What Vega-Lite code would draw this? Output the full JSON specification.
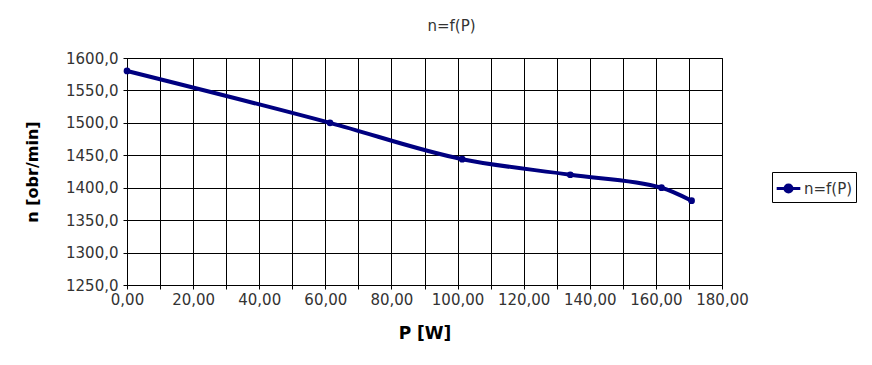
{
  "$schema": "https://vega.github.io/schema/vega-lite/v6.json",
  "autosize": "none",
  "width": 595,
  "height": 227,
  "padding": {"left": 127, "top": 58, "right": 150, "bottom": 80},
  "background": "white",
  "config": {
    "locale": {"number": {"decimal": ",", "thousands": "", "grouping": [3], "currency": ["", ""]}},
    "font": "DejaVu Sans",
    "view": {"stroke": "black", "strokeWidth": 1}
  },
  "title": {
    "text": "n=f(P)",
    "anchor": "middle",
    "frame": "bounds",
    "fontSize": 15,
    "fontWeight": "normal",
    "font": "DejaVu Sans",
    "color": "#333",
    "dx": 11,
    "offset": 17
  },
  "data": {
    "values": [
      {"P": 0, "n": 1580, "s": "n=f(P)"},
      {"P": 61.4, "n": 1500, "s": "n=f(P)"},
      {"P": 101.4, "n": 1444, "s": "n=f(P)"},
      {"P": 134.1, "n": 1420, "s": "n=f(P)"},
      {"P": 161.7, "n": 1400, "s": "n=f(P)"},
      {"P": 170.8, "n": 1380, "s": "n=f(P)"}
    ]
  },
  "mark": {"type": "line", "interpolate": "monotone", "strokeWidth": 4, "point": {"filled": true, "size": 45}},
  "encoding": {
    "x": {
      "field": "P", "type": "quantitative",
      "scale": {"domain": [0, 180], "nice": false, "zero": false},
      "axis": {
        "title": "P [W]",
        "values": [0,10,20,30,40,50,60,70,80,90,100,110,120,130,140,150,160,170,180],
        "format": ".2f",
        "labelExpr": "datum.value % 20 == 0 ? datum.label : ''",
        "grid": true, "gridColor": "black", "gridOpacity": 1, "gridWidth": 1,
        "domainColor": "black", "tickColor": "black", "tickSize": 4,
        "labelFontSize": 15, "labelColor": "#333", "labelPadding": 3,
        "titleFontSize": 17, "titleFontWeight": "bold", "titleColor": "black", "titlePadding": 18,
        "labelFlush": false, "labelOverlap": false
      }
    },
    "y": {
      "field": "n", "type": "quantitative",
      "scale": {"domain": [1250, 1600], "nice": false, "zero": false},
      "axis": {
        "title": "n [obr/min]",
        "values": [1250,1300,1350,1400,1450,1500,1550,1600],
        "format": ".1f",
        "grid": true, "gridColor": "black", "gridOpacity": 1, "gridWidth": 1,
        "domainColor": "black", "tickColor": "black", "tickSize": 4,
        "labelFontSize": 15, "labelColor": "#333", "labelPadding": 5,
        "titleFontSize": 16, "titleFontWeight": "bold", "titleColor": "black", "titlePadding": 25,
        "labelFlush": false, "labelOverlap": false
      }
    },
    "color": {
      "field": "s", "type": "nominal",
      "scale": {"range": ["#000080"]},
      "legend": {
        "title": null,
        "orient": "none",
        "legendX": 645,
        "legendY": 114,
        "strokeColor": "black",
        "padding": 3,
        "labelFontSize": 15,
        "labelColor": "#333",
        "symbolType": "M-1,0L1,0M-0.3,0A0.3,0.3 0 1,1 0.3,0A0.3,0.3 0 1,1 -0.3,0Z",
        "symbolSize": 560,
        "symbolStrokeWidth": 3,
        "symbolFillColor": "#000080",
        "symbolStrokeColor": "#000080",
        "labelOffset": 2
      }
    }
  }
}
